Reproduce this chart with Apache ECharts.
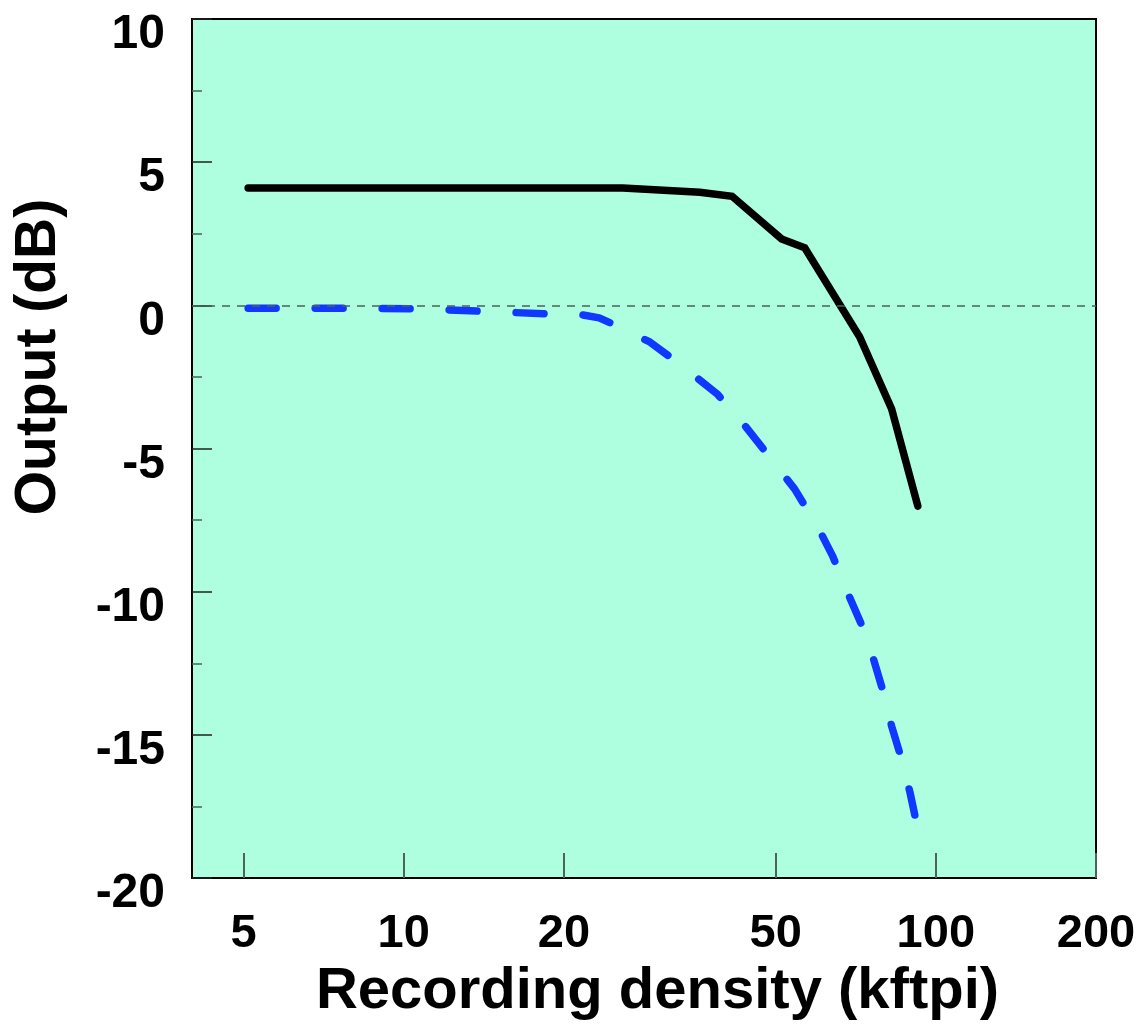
<!DOCTYPE html>
<html>
<head>
<meta charset="utf-8">
<script src="https://cdn.jsdelivr.net/npm/echarts@6/dist/echarts.min.js"></script>
<style>
html, body { margin: 0; padding: 0; background: #fff; }
#chart { width: 1146px; height: 1030px; }
</style>
</head>
<body>
<div id="chart"></div>
<script>
// x ticks (kftpi), drawn on a log10 scale
var xTicks = [5, 10, 20, 50, 100, 200];
var xMin = 4, xMax = 200;

// solid black curve
var solidX = [5.1, 25.8, 36, 41.4, 51.3, 56.7, 71.9, 82.6, 92.5];
var solidY = [4.1, 4.1, 3.95, 3.81, 2.32, 2.01, -1.1, -3.62, -7.01];

// dashed blue curve
var dashX = [5.1, 8, 10.6, 14.1, 18.8, 21.6, 23.3, 24.7, 29, 33, 38.8, 43.2, 49.4, 54.3, 60, 64, 68.3, 72.3, 76.4, 79.5, 82.6, 85.9, 89.4, 91.3];
var dashY = [-0.1, -0.1, -0.12, -0.21, -0.3, -0.33, -0.44, -0.65, -1.28, -2.05, -3.09, -4.07, -5.44, -6.42, -7.74, -8.76, -10.05, -11.1, -12.37, -13.45, -14.7, -15.75, -17.0, -17.8];

function pairs(xs, ys) {
    return xs.map(function (x, i) { return [Math.log10(x), ys[i]]; });
}

var FONT = 'Liberation Sans';
var myChart = echarts.init(document.getElementById('chart'));

var option = {
    animation: false,
    grid: {
        left: 192, right: 50, top: 19, bottom: 152,
        show: true,
        backgroundColor: '#aeffdf',
        borderColor: '#000',
        borderWidth: 2
    },
    xAxis: {
        type: 'value',
        min: Math.log10(xMin),
        max: Math.log10(xMax),
        name: 'Recording density (kftpi)',
        nameLocation: 'middle',
        nameGap: 72,
        nameTextStyle: {
            fontFamily: FONT, fontWeight: 'bold', fontSize: 58, color: '#000',
            padding: [0, 0, 0, 27]
        },
        axisLine: { show: true, onZero: false, lineStyle: { color: '#000', width: 2 } },
        axisTick: {
            show: true, inside: true, length: 25,
            customValues: xTicks.map(function (v) { return Math.log10(v); }),
            lineStyle: { color: '#4a6458', width: 2 }
        },
        axisLabel: {
            customValues: xTicks.map(function (v) { return Math.log10(v); }),
            formatter: function (v) { return String(Math.round(Math.pow(10, v))); },
            fontFamily: FONT, fontWeight: 'bold', fontSize: 47, color: '#000',
            margin: 33
        },
        splitLine: { show: false }
    },
    yAxis: {
        type: 'value',
        min: -20, max: 10, interval: 5,
        axisLine: { show: true, onZero: false, lineStyle: { color: '#000', width: 2 } },
        axisTick: { show: true, inside: true, length: 20, lineStyle: { color: '#222', width: 1.5 } },
        minorTick: { show: true, splitNumber: 2, length: 10, lineStyle: { color: '#4a6458', width: 1.5 } },
        axisLabel: {
            fontFamily: FONT, fontWeight: 'bold', fontSize: 48, color: '#000',
            margin: 27,
            verticalAlign: 'top',
            lineHeight: 32
        },
        splitLine: { show: false }
    },
    graphic: [{
        type: 'text',
        x: 39, y: 357,
        rotation: Math.PI / 2,
        style: {
            text: 'Output (dB)',
            fontFamily: FONT, fontWeight: 'bold', fontSize: 57, fill: '#000',
            align: 'center', verticalAlign: 'middle'
        }
    }],
    series: [
        {
            type: 'line',
            data: pairs(solidX, solidY),
            symbol: 'none',
            lineStyle: { color: '#000', width: 7.5, cap: 'round', join: 'miter' },
            markLine: {
                silent: true,
                symbol: 'none',
                label: { show: false },
                lineStyle: { color: '#4a6458', width: 1.5, type: [8, 7] },
                data: [{ yAxis: 0 }]
            },
            z: 3
        },
        {
            type: 'line',
            data: pairs(dashX, dashY),
            symbol: 'none',
            lineStyle: { color: '#1038ff', width: 7.5, type: [28, 39], cap: 'round', join: 'round' },
            z: 2
        }
    ]
};

myChart.setOption(option);
window.addEventListener('resize', function () { myChart.resize(); });
</script>
</body>
</html>
